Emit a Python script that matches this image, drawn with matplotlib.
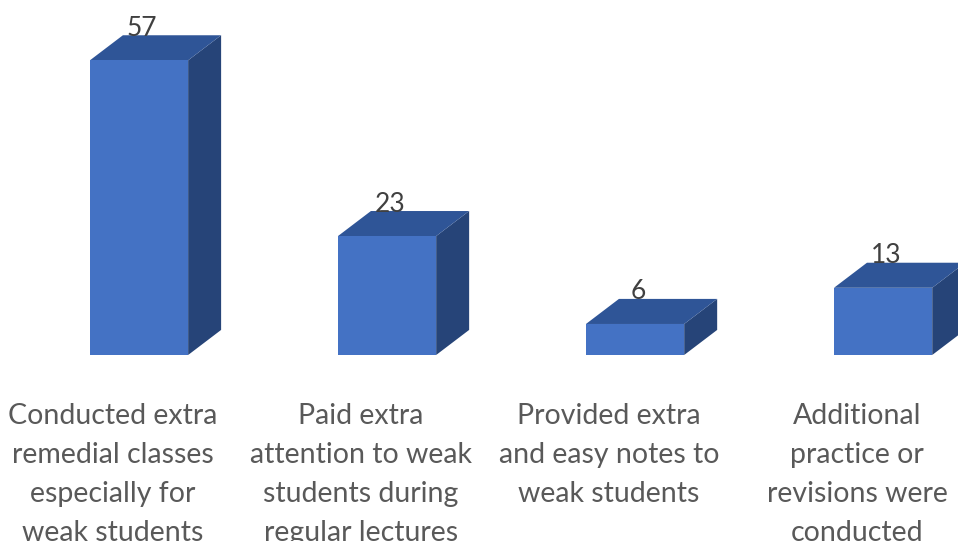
import matplotlib.pyplot as plt
from matplotlib.patches import Polygon

categories = [
    "Conducted extra\nremedial classes\nespecially for\nweak students",
    "Paid extra\nattention to weak\nstudents during\nregular lectures",
    "Provided extra\nand easy notes to\nweak students",
    "Additional\npractice or\nrevisions were\nconducted",
]
values = [57, 23, 6, 13]

front_color = "#4472C4"
top_color = "#2F5597"
side_color = "#264478"

half_w = 0.198     # half bar width, in category units
dx, dy = 0.133, 4.85  # 3-D depth offset

fig = plt.figure(figsize=(9.58, 5.41), dpi=100)
ax = fig.add_axes([0, 0, 1, 1])
ax.set_xlim(-0.5605, 3.302)
ax.set_ylim(-35.98, 68.67)
ax.axis("off")

for i, v in enumerate(values):
    x0, x1 = i - half_w, i + half_w
    front = [(x0, 0), (x1, 0), (x1, v), (x0, v)]
    top = [(x0, v), (x1, v), (x1 + dx, v + dy), (x0 + dx, v + dy)]
    side = [(x1, 0), (x1 + dx, dy), (x1 + dx, v + dy), (x1, v)]
    ax.add_patch(Polygon(side, closed=True, facecolor=side_color, edgecolor="none"))
    ax.add_patch(Polygon(top, closed=True, facecolor=top_color, edgecolor="none"))
    ax.add_patch(Polygon(front, closed=True, facecolor=front_color, edgecolor="none"))
    ax.text(i + 0.012, v + dy - 0.1, str(v), ha="center", va="baseline",
            fontsize=19, color="#404040", family="Lato")
    ax.text(i - 0.105, -9.2, categories[i], ha="center", va="top",
            fontsize=20.5, color="#595959", family="Lato", linespacing=1.62)

fig.savefig("out.png", dpi=100)
